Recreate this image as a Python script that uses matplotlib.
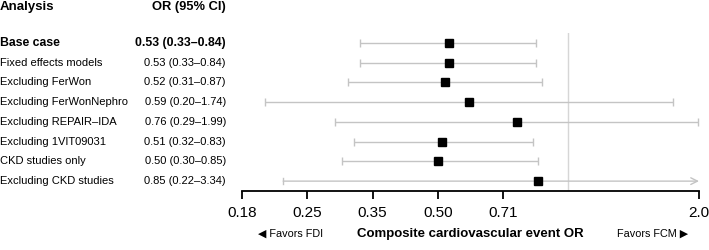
import matplotlib
matplotlib.use('Agg')
import matplotlib.pyplot as plt
import matplotlib.transforms as mtransforms

plt.rcParams['font.family'] = ['Liberation Sans', 'DejaVu Sans']

# data
labels = ['Base case', 'Fixed effects models', 'Excluding FerWon',
          'Excluding FerWonNephro', 'Excluding REPAIR\u2013IDA',
          'Excluding 1VIT09031', 'CKD studies only', 'Excluding CKD studies']
or_est = [0.53, 0.53, 0.52, 0.59, 0.76, 0.51, 0.50, 0.85]
ci_low = [0.33, 0.33, 0.31, 0.20, 0.29, 0.32, 0.30, 0.22]
ci_high = [0.84, 0.84, 0.87, 1.74, 1.99, 0.83, 0.85, 3.34]
tick_vals = [2 ** -2.5, 0.25, 2 ** -1.5, 0.5, 2 ** -0.5, 2.0]
tick_labels = ['0.18', '0.25', '0.35', '0.50', '0.71', '2.0']

W, H = 709, 250
fig = plt.figure(figsize=(W / 100, H / 100), dpi=100)

# plot area in pixels: x 242..699, y 33..191
ax = fig.add_axes([242 / W, 1 - 191 / H, (699 - 242) / W, (191 - 33) / H])
ax.set_xscale('log', base=2)
xmin, xmax = 2 ** -2.5, 2.0
ax.set_xlim(xmin, xmax)
ax.set_ylim(7.5, -0.5)

grey = '#c4c4c4'
ax.axvline(1.0, color='#d6d6d6', lw=1, zorder=0)

for i in range(len(labels)):
    lo, hi, est = ci_low[i], ci_high[i], or_est[i]
    if hi > xmax:
        # upper limit off the scale: open arrow at the edge
        ax.annotate('', xy=(xmax, i), xytext=(lo, i),
                    arrowprops=dict(arrowstyle='->', color=grey, lw=1,
                                    shrinkA=0, shrinkB=0, mutation_scale=12),
                    annotation_clip=False)
        ax.plot([lo, lo], [i - 0.17, i + 0.17], color=grey, lw=1, clip_on=False)
    else:
        ax.errorbar([est], [i], xerr=[[est - lo], [hi - est]], fmt='none',
                    ecolor=grey, elinewidth=1, capsize=3, capthick=1, clip_on=False)
    ax.plot([est], [i], marker='s', color='black', markersize=6, zorder=5, clip_on=False)

for s in ['top', 'right', 'left']:
    ax.spines[s].set_visible(False)
ax.spines['bottom'].set_linewidth(1.3)
ax.set_yticks([])
ax.set_xticks(tick_vals)
ax.set_xticklabels(tick_labels, fontsize=11)
ax.minorticks_off()
ax.tick_params(axis='x', direction='out', length=5.5, width=1.3, pad=5)

# text columns
tr = mtransforms.blended_transform_factory(fig.transFigure, ax.transData)
for i, lab in enumerate(labels):
    w = 'bold' if i == 0 else 'normal'
    fs = 8.8 if i == 0 else 8
    ci_txt = '%.2f (%.2f\u2013%.2f)' % (or_est[i], ci_low[i], ci_high[i])
    fig.text(0 / W, i, lab, transform=tr, ha='left', va='center',
             fontsize=fs, fontweight=w)
    fig.text(226 / W, i, ci_txt, transform=tr, ha='right', va='center',
             fontsize=fs, fontweight=w)

fig.text(0, 1 - 7 / H, 'Analysis', ha='left', va='center', fontsize=9.5, fontweight='bold')
fig.text(226 / W, 1 - 7 / H, 'OR (95% CI)', ha='right', va='center',
         fontsize=9.3, fontweight='bold')

fig.text(470 / W, 1 - 234 / H, 'Composite cardiovascular event OR', ha='center',
         va='center', fontsize=9.5, fontweight='bold')
fig.text(258 / W, 1 - 234 / H, '\u25C0 Favors FDI', ha='left', va='center', fontsize=7.8)
fig.text(688 / W, 1 - 234 / H, 'Favors FCM \u25B6', ha='right', va='center', fontsize=7.8)

fig.savefig('out.png', dpi=100)
